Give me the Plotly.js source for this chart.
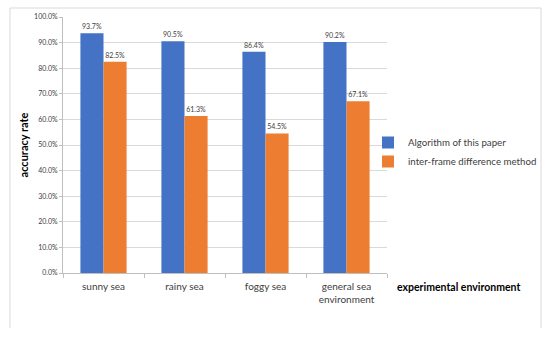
<!DOCTYPE html>
<html><head><meta charset="utf-8">
<script src="https://cdn.plot.ly/plotly-3.0.1.min.js"></script>
<style>html,body{margin:0;padding:0;background:#fff}#c{width:550px;height:340px}</style>
</head><body><div id="c"></div>
<script>
const categories = ["sunny sea", "rainy sea", "foggy sea", "general sea<br>environment"];
const seriesNames = ["Algorithm of this paper", "inter-frame difference method"];
const algorithm = [0.937, 0.905, 0.864, 0.902];
const interFrame = [0.825, 0.613, 0.545, 0.671];
const yTicks = [0, 0.1, 0.2, 0.3, 0.4, 0.5, 0.6, 0.7, 0.8, 0.9, 1.0];
const colors = ["#4472C4", "#ED7D31"];

const font = "Lato, 'Open Sans', sans-serif";
const mk = (name, y, color) => ({
  type: "bar", name: name, x: categories, y: y,
  marker: {color: color},
  text: y.map(v => (v * 100).toFixed(1) + "%"),
  textposition: "outside", cliponaxis: false,
  textfont: {size: 7, color: "#404040", family: font},
  hoverinfo: "none"
});
const data = [mk(seriesNames[0], algorithm, colors[0]), mk(seriesNames[1], interFrame, colors[1])];

const W = 324, H = 256, L = 63, T = 17;
const px = v => (v - L) / W, py = v => (T + H - v) / H;
const line = (x0, y0, x1, y1) => ({type: "line", xref: "paper", yref: "paper",
  x0: px(x0), y0: py(y0), x1: px(x1), y1: py(y1), line: {color: "#d9d9d9", width: 1}});

const layout = {
  width: 550, height: 340,
  margin: {l: L, r: 550 - L - W, t: T, b: 340 - T - H, autoexpand: false},
  paper_bgcolor: "#fff", plot_bgcolor: "#fff",
  font: {family: font, color: "#404040"},
  barmode: "group", bargap: 0.43, bargroupgap: 0,
  showlegend: true,
  legend: {x: px(368), y: py(128), xanchor: "left", yanchor: "top", bgcolor: "rgba(0,0,0,0)",
    font: {size: 9.7, color: "#404040", family: font}, tracegroupgap: 3, itemwidth: 30},
  xaxis: {type: "category", tickfont: {size: 10, color: "#404040", family: font},
    showline: true, linecolor: "#bfbfbf", linewidth: 1, ticks: "outside", tickson: "boundaries",
    ticklen: 4, tickcolor: "#bfbfbf", ticklabelstandoff: 4, showgrid: false, fixedrange: true},
  yaxis: {range: [0, 1.0], tickvals: yTicks, tickformat: ".1%",
    tickfont: {size: 7, color: "#404040", family: font},
    showgrid: true, gridcolor: "#d9d9d9", gridwidth: 1,
    showline: true, linecolor: "#bfbfbf", ticks: "outside", ticklen: 3, tickcolor: "#bfbfbf",
    zeroline: false,
    title: {text: "<b>accuracy rate</b>", font: {size: 11, color: "#000", family: font}, standoff: 3}},
  annotations: [{xref: "paper", yref: "paper", x: px(395), y: py(287), xanchor: "left", yanchor: "middle",
    text: "<b>experimental environment</b>", showarrow: false, font: {size: 10.5, color: "#000", family: font}}],
  shapes: [line(10, 8, 541, 8), line(10, 8, 10, 328), line(541, 8, 541, 328)]
};
Plotly.newPlot("c", data, layout, {staticPlot: true, displayModeBar: false});
</script></body></html>
